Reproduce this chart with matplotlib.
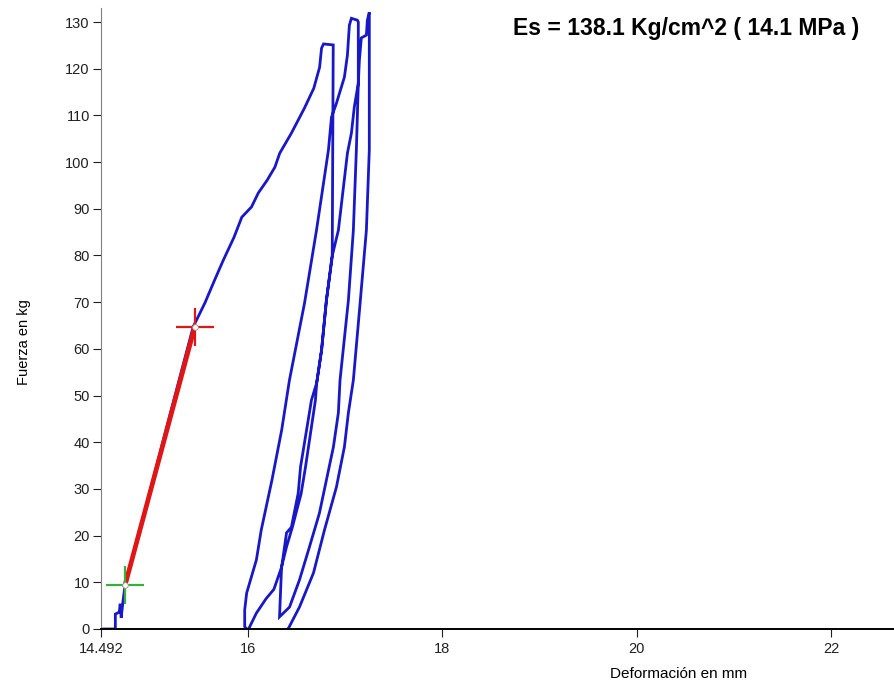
# Force vs deformation curve, three loading cycles, with secant modulus line
import numpy as np
import matplotlib.pyplot as plt

plt.rcParams['font.family'] = ['Liberation Sans Narrow', 'Liberation Sans', 'DejaVu Sans']

# Test record (deformation in mm, force in kg)
load1_x = [14.492, 14.64, 14.64, 14.68, 14.69, 14.70, 14.72, 14.74, 14.94, 15.19, 15.44,
           15.56, 15.66, 15.75, 15.86, 15.94, 16.04, 16.11, 16.20, 16.28, 16.33,
           16.45, 16.585, 16.68, 16.74, 16.76, 16.78, 16.88]
load1_y = [0, 0, 3.2, 3.6, 5.4, 2.4, 6.2, 9.4, 25.0, 45.0, 64.7,
           69.8, 74.7, 79.0, 83.9, 88.2, 90.4, 93.4, 96.1, 98.9, 101.9,
           106.2, 111.6, 115.8, 120.3, 124.4, 125.3, 125.1]

unload1_x = [16.88, 16.87, 16.81, 16.76, 16.71, 16.656, 16.544, 16.52, 16.45, 16.40,
             16.35, 16.27, 16.19, 16.09, 16.01]
unload1_y = [125.1, 80.1, 70.4, 59.7, 52.7, 49.0, 34.7, 29.1, 21.8, 20.6,
             13.3, 8.5, 6.5, 3.4, 0]

load2_x = [15.99, 15.97, 15.97, 15.99, 16.09, 16.14, 16.25, 16.35, 16.43, 16.585,
           16.708, 16.831, 16.862, 16.913, 16.995, 17.026, 17.046, 17.067, 17.128]
load2_y = [0, 0.5, 4.1, 7.7, 14.8, 21.2, 31.9, 42.6, 53.3, 69.8,
           85.4, 102.6, 109.6, 112.6, 118.2, 122.9, 129.3, 130.8, 130.4]

unload2_x = [17.138, 17.138, 17.097, 17.067, 17.026, 16.933, 16.872, 16.81, 16.76, 16.71,
             16.697, 16.595, 16.55, 16.46, 16.40, 16.349, 16.328]
unload2_y = [130.0, 116.9, 111.8, 106.2, 101.9, 85.4, 80.1, 70.4, 59.7, 52.7,
             49.0, 34.7, 29.0, 21.8, 17.6, 13.3, 2.6]

load3_x = [16.328, 16.431, 16.533, 16.636, 16.738, 16.81, 16.882, 16.933, 16.95,
           17.036, 17.087, 17.118, 17.138, 17.149, 17.169, 17.221, 17.231, 17.251]
load3_y = [2.6, 4.7, 10.5, 17.6, 24.8, 31.9, 39.0, 46.3, 53.3,
           70.4, 85.4, 102.6, 116.9, 121.8, 126.6, 127.2, 130.4, 132.1]

unload3_x = [17.251, 17.251, 17.251, 17.221, 17.159, 17.087, 17.036, 16.995, 16.913,
             16.79, 16.677, 16.533, 16.421, 16.41]
unload3_y = [132.1, 106.9, 102.6, 85.4, 70.4, 53.3, 46.3, 39.0, 30.4,
             21.2, 12.0, 4.7, 0.2, 0]

# secant modulus points
p1 = (14.74, 9.4)
p2 = (15.456, 64.7)

x = np.concatenate([load1_x, unload1_x, load2_x, unload2_x, load3_x, unload3_x])
y = np.concatenate([load1_y, unload1_y, load2_y, unload2_y, load3_y, unload3_y])

xticks = [14.492, 16, 18, 20, 22]
xticklabels = ['14.492', '16', '18', '20', '22']
yticks = np.arange(0, 131, 10)

fig = plt.figure(figsize=(8.95, 6.86), dpi=100)
ax = fig.add_axes([0.1128, 0.0831, 0.8872, 0.9052])

ax.plot(x, y, color='#1818c8', linewidth=2.0, solid_joinstyle='miter')
ax.plot([p1[0], p2[0]], [p1[1], p2[1]], color='#e01515', linewidth=3.4)
ax.plot(*p1, marker='+', markersize=27, markeredgewidth=1.6, color='#3aae3a')
ax.plot(*p2, marker='+', markersize=27, markeredgewidth=1.6, color='#e01515')
ax.plot(*p1, marker='o', markersize=4, markerfacecolor='white', markeredgecolor='#999999', markeredgewidth=0.6)
ax.plot(*p2, marker='o', markersize=4, markerfacecolor='white', markeredgecolor='#999999', markeredgewidth=0.6)

ax.set_xlim(14.492, 22.656)
ax.set_ylim(0, 133)
ax.set_xticks(xticks)
ax.set_xticklabels(xticklabels)
ax.set_yticks(yticks)

ax.spines['top'].set_visible(False)
ax.spines['right'].set_visible(False)
ax.spines['left'].set_color('#808080')
ax.spines['left'].set_linewidth(0.8)
ax.spines['bottom'].set_color('black')
ax.spines['bottom'].set_linewidth(1.4)
ax.tick_params(axis='both', direction='out', length=6, labelsize=10.5, colors='#202020')
ax.tick_params(axis='y', pad=2)

ax.set_xlabel('Deformación en mm', fontsize=11)
ax.set_ylabel('Fuerza en kg', fontsize=10.5)
ax.xaxis.set_label_coords(0.727, -0.062)
ax.yaxis.set_label_coords(-0.088, 0.462)

fig.text(513 / 895, 1 - 29 / 686, 'Es = 138.1 Kg/cm^2 ( 14.1 MPa )',
         fontsize=16.5, fontweight='bold', ha='left', va='center')

fig.savefig('out.png', dpi=100)
